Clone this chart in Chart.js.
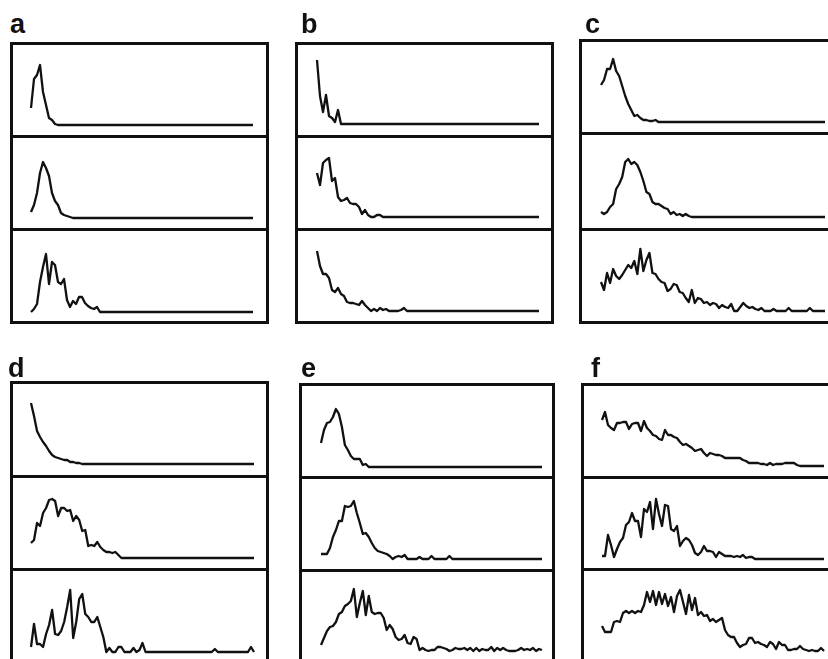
<!DOCTYPE html>
<html><head><meta charset="utf-8">
<script src="https://cdn.jsdelivr.net/npm/chart.js@4/dist/chart.umd.min.js"></script>
<style>
html,body{margin:0;padding:0;background:#fff;width:828px;height:659px;overflow:hidden;position:relative}
.lbl{position:absolute;font-family:"Liberation Sans",Arial,sans-serif;font-weight:bold;font-size:27px;line-height:1;color:#111}
.ln{position:absolute;background:#111}
canvas{position:absolute}
</style></head><body>
<script>
// shared x categories (bins)
const categories = [0,1,2,3,4,5,6,7,8,9,10,11,12,13,14,15,16,17,18,19,20,21,22,23,24,25,26,27,28,29,30,31,32,33,34,35,36,37,38,39,40,41,42,43,44,45,46,47,48,49,50,51,52,53,54,55,56,57,58,59,60,61,62,63,64,65,66,67,68,69,70,71,72,73,74];
const panelLabels = ['a','b','c','d','e','f'];

// panel a
const a1 = [17,46,50,60,33,20,7,5,1,0, 0,0,0,0,0,0,0,0,0,0, 0,0,0,0,0,0,0,0,0,0, 0,0,0,0,0,0,0,0,0,0, 0,0,0,0,0,0,0,0,0,0, 0,0,0,0,0,0,0,0,0,0, 0,0,0,0,0,0,0,0,0,0, 0,0,0,0,0];
const a2 = [6,13,25,45,56,50,42,25,17,13, 5,3,2,1,0,0,0,0,0,0, 0,0,0,0,0,0,0,0,0,0, 0,0,0,0,0,0,0,0,0,0, 0,0,0,0,0,0,0,0,0,0, 0,0,0,0,0,0,0,0,0,0, 0,0,0,0,0,0,0,0,0,0, 0,0,0,0,0];
const a3 = [0,3,8,30,45,58,28,50,47,30, 28,33,12,5,11,8,15,15,9,6, 4,3,5,0,0,0,0,0,0,0, 0,0,0,0,0,0,0,0,0,0, 0,0,0,0,0,0,0,0,0,0, 0,0,0,0,0,0,0,0,0,0, 0,0,0,0,0,0,0,0,0,0, 0,0,0,0,0];
// panel b
const b1 = [64,28,12,29,8,6,2,14,0,0, 0,0,0,0,0,0,0,0,0,0, 0,0,0,0,0,0,0,0,0,0, 0,0,0,0,0,0,0,0,0,0, 0,0,0,0,0,0,0,0,0,0, 0,0,0,0,0,0,0,0,0,0, 0,0,0,0,0,0,0,0,0,0, 0,0,0,0,0];
const b2 = [44,32,54,57,59,36,39,20,16,17, 19,14,13,13,10,3,7,2,0,0, 2,2,0,0,0,0,0,0,0,0, 0,0,0,0,0,0,0,0,0,0, 0,0,0,0,0,0,0,0,0,0, 0,0,0,0,0,0,0,0,0,0, 0,0,0,0,0,0,0,0,0,0, 0,0,0,0,0];
const b3 = [60,45,37,37,33,21,19,23,17,15, 9,8,8,7,6,10,6,3,0,2, 0,3,1,2,0,0,0,0,1,3, 0,0,0,0,0,0,0,0,0,0, 0,0,0,0,0,0,0,0,0,0, 0,0,0,0,0,0,0,0,0,0, 0,0,0,0,0,0,0,0,0,0, 0,0,0,0,0];
// panel c
const c1 = [37,42,53,53,63,51,46,36,26,18, 12,6,7,4,2,2,1,1,2,0, 0,0,0,0,0,0,0,0,0,0, 0,0,0,0,0,0,0,0,0,0, 0,0,0,0,0,0,0,0,0,0, 0,0,0,0,0,0,0,0,0,0, 0,0,0,0,0,0,0,0,0,0, 0,0,0,0,0];
const c2 = [5,3,5,10,13,28,33,40,55,58, 53,55,52,45,36,25,23,15,13,13, 11,9,8,3,5,2,3,1,3,1, 0,0,0,0,0,0,0,0,0,0, 0,0,0,0,0,0,0,0,0,0, 0,0,0,0,0,0,0,0,0,0, 0,0,0,0,0,0,0,0,0,0, 0,0,0,0,0];
const c3 = [29,21,38,28,42,35,32,36,41,46, 43,50,37,62,40,51,58,38,37,32, 29,28,20,22,27,26,19,18,13,9, 21,8,13,12,8,9,6,8,7,3, 6,4,3,7,0,0,4,8,5,3, 4,2,1,3,0,0,0,2,0,0, 0,0,3,0,0,0,0,0,0,3, 0,0,0,0,0];
// panel d
const d1 = [61,48,33,27,22,18,13,9,7,6, 5,4,4,2,2,1,1,0,0,0, 0,0,0,0,0,0,0,0,0,0, 0,0,0,0,0,0,0,0,0,0, 0,0,0,0,0,0,0,0,0,0, 0,0,0,0,0,0,0,0,0,0, 0,0,0,0,0,0,0,0,0,0, 0,0,0,0,0];
const d2 = [15,18,35,32,45,50,58,59,57,42, 50,50,47,48,37,42,38,27,28,12, 13,12,16,11,8,6,6,5,6,3, 0,0,0,0,0,0,0,0,0,0, 0,0,0,0,0,0,0,0,0,0, 0,0,0,0,0,0,0,0,0,0, 0,0,0,0,0,0,0,0,0,0, 0,0,0,0,0];
const d3 = [5,28,8,8,5,18,27,42,18,17, 21,30,45,62,14,30,53,58,38,35, 30,30,35,25,15,0,4,0,0,5, 5,0,0,0,4,0,2,9,0,0, 0,0,0,0,0,0,0,0,0,0, 0,0,0,0,0,0,0,0,0,0, 0,3,0,0,0,0,0,0,0,0, 0,0,0,5,0];
// panel e
const e1 = [24,37,44,45,50,58,53,40,22,17, 11,8,8,8,2,3,0,0,0,0, 0,0,0,0,0,0,0,0,0,0, 0,0,0,0,0,0,0,0,0,0, 0,0,0,0,0,0,0,0,0,0, 0,0,0,0,0,0,0,0,0,0, 0,0,0,0,0,0,0,0,0,0, 0,0,0,0,0];
const e2 = [5,5,5,11,22,29,38,38,53,52, 53,58,46,36,25,26,22,16,11,8, 7,6,5,3,0,2,3,2,4,0, 0,0,0,2,0,0,0,3,0,0, 0,0,0,3,0,0,0,0,0,0, 0,0,0,0,0,0,0,0,0,0, 0,0,0,0,0,0,0,0,0,0, 0,0,0,0,0];
const e3 = [6,13,20,24,25,29,37,39,45,47, 50,62,34,48,60,36,55,39,37,38, 38,33,21,26,22,14,11,12,16,8, 7,14,12,1,3,1,0,1,1,4, 4,3,2,0,1,3,2,2,3,1, 3,0,3,0,2,1,1,4,0,3, 1,3,1,0,0,0,1,3,1,2, 1,3,0,2,1];
// panel f
const f1 = [46,54,41,38,36,43,43,44,44,37, 42,43,43,35,45,38,35,31,30,27, 26,36,31,31,29,28,24,21,22,20, 18,15,16,17,13,10,13,12,11,11, 10,8,8,8,8,8,8,6,5,3, 3,3,3,2,2,1,3,1,2,2, 2,3,3,3,3,1,0,0,0,0, 0,0,0,0,0];
const f2 = [3,3,24,14,2,10,17,21,34,37, 46,38,38,22,50,47,57,30,60,45, 33,54,53,30,28,33,13,18,21,19, 14,6,4,7,13,8,8,7,2,7, 5,3,3,3,2,3,2,4,1,2, 2,0,0,0,0,0,0,0,0,0, 0,0,0,0,0,0,0,0,0,0, 0,0,0,0,0];
const f3 = [26,20,20,20,30,31,30,39,41,39, 41,39,41,40,47,60,50,61,47,60, 48,58,46,55,40,56,62,50,38,57, 42,54,37,40,36,37,31,33,30,32, 34,22,17,15,15,9,5,7,8,14, 14,9,10,8,7,5,10,8,3,10, 7,7,2,2,3,3,6,3,2,1, 2,1,1,4,1];

// layout (pixel geometry only)
const panels = [
  {label:panelLabels[0], L:11,  R:267, ys:[43,136,229,322],  xs:31,  xe:253, base:[125,218,312], series:[a1,a2,a3], lx:10,  ly:11},
  {label:panelLabels[1], L:296, R:552, ys:[43,136,229,322],  xs:317, xe:539, base:[124,217,311], series:[b1,b2,b3], lx:301, ly:11},
  {label:panelLabels[2], L:580, R:840, ys:[40,133,229,322],  xs:601, xe:825, base:[122,217,311], series:[c1,c2,c3], lx:585, ly:11},
  {label:panelLabels[3], L:11,  R:267, ys:[382,476,569,663], xs:31,  xe:254, base:[464,558,652], series:[d1,d2,d3], lx:8,   ly:355},
  {label:panelLabels[4], L:300, R:553, ys:[384,477,570,663], xs:321, xe:542, base:[467,559,651], series:[e1,e2,e3], lx:301, ly:355},
  {label:panelLabels[5], L:582, R:840, ys:[384,477,569,663], xs:602, xe:824, base:[466,559,652], series:[f1,f2,f3], lx:591, ly:355}
];

function line(x,y,w,h){const d=document.createElement('div');d.className='ln';d.style.left=x+'px';d.style.top=y+'px';d.style.width=w+'px';d.style.height=h+'px';document.body.appendChild(d);}

panels.forEach(p=>{
  const lb=document.createElement('div');lb.className='lbl';lb.textContent=p.label;lb.style.left=p.lx+'px';lb.style.top=p.ly+'px';document.body.appendChild(lb);
  for(let k=0;k<3;k++){
    const top=p.ys[k], bot=p.ys[k+1];
    const cv=document.createElement('canvas');
    cv.width=p.R-p.L; cv.height=bot-top;
    cv.style.left=p.L+'px'; cv.style.top=top+'px';
    cv.style.width=(p.R-p.L)+'px'; cv.style.height=(bot-top)+'px';
    document.body.appendChild(cv);
    new Chart(cv,{
      type:'line',
      data:{labels:categories,datasets:[{data:p.series[k],borderColor:'#111',borderWidth:2.3,pointRadius:0,tension:0,fill:false,borderJoinStyle:'round',clip:false}]},
      options:{
        responsive:false,animation:false,devicePixelRatio:1,
        layout:{padding:{left:p.xs-p.L,right:p.R-p.xe,top:0,bottom:bot-p.base[k]}},
        plugins:{legend:{display:false},tooltip:{enabled:false},title:{display:false}},
        scales:{x:{display:false},y:{display:false,min:0,max:p.base[k]-top}}
      }
    });
  }
  const w=3;
  line(p.L-1,p.ys[0]-1,w,p.ys[3]-p.ys[0]+3);
  line(p.R-1,p.ys[0]-1,w,p.ys[3]-p.ys[0]+3);
  p.ys.forEach(y=>line(p.L-1,y-1,p.R-p.L+3,w));
});
</script>
</body></html>
